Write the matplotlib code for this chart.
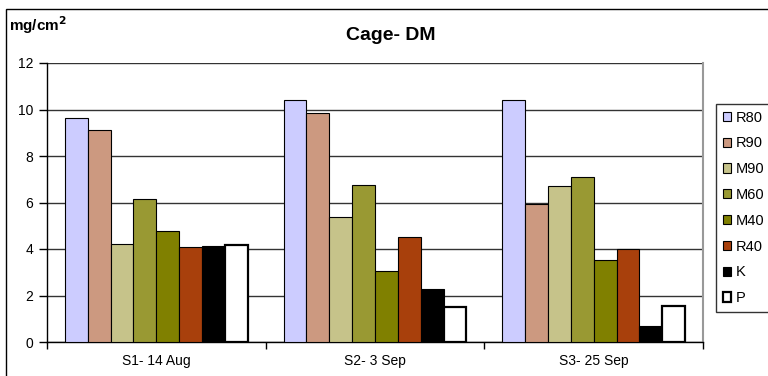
import numpy as np
import matplotlib.pyplot as plt
from matplotlib.patches import Rectangle

plt.rcParams['font.family'] = ['Liberation Sans', 'DejaVu Sans']

# datos
categorias = ['S1- 14 Aug', 'S2- 3 Sep', 'S3- 25 Sep']
series = ['R80', 'R90', 'M90', 'M60', 'M40', 'R40', 'K', 'P']
valores = {
    'R80': [9.65, 10.4, 10.4],
    'R90': [9.1, 9.86, 5.92],
    'M90': [4.2, 5.39, 6.71],
    'M60': [6.15, 6.75, 7.1],
    'M40': [4.79, 3.05, 3.54],
    'R40': [4.1, 4.53, 4.0],
    'K': [4.14, 2.29, 0.7],
    'P': [4.17, 1.49, 1.55],
}
colores = ['#CCCCFF', '#CC9980', '#C6C38A', '#999933', '#808000',
           '#A8400C', '#000000', '#FFFFFF']

fig = plt.figure(figsize=(7.68, 3.76), dpi=100)
ax = fig.add_axes([47/768, 1 - 342/376, (703 - 47)/768, (342 - 63)/376])

n = len(series)
ancho = 0.836 / n
x = np.arange(len(categorias))
for i, s in enumerate(series):
    pos = x - 0.418 + ancho * (i + 0.5)
    lw = 1.6 if s == 'P' else 0.8
    ax.bar(pos, valores[s], width=ancho, color=colores[i],
           edgecolor='black', linewidth=lw, label=s, zorder=3)

ax.set_xlim(-0.5, 2.5)
ax.set_ylim(0, 12)
ax.set_yticks(np.arange(0, 13, 2))
ax.yaxis.grid(True, color='#333333', linewidth=1, zorder=0)
ax.set_xticks([-0.5, 0.5, 1.5, 2.5])
ax.set_xticklabels([])
ax.set_xticks(x, minor=True)
ax.set_xticklabels(categorias, minor=True)
ax.tick_params(axis='x', which='minor', length=0, pad=9, labelsize=10)
ax.tick_params(axis='x', which='major', length=5, width=1, direction='out')
ax.tick_params(axis='y', length=6, width=1, labelsize=10, pad=4)
ax.spines['top'].set_visible(False)
ax.spines['right'].set_color('#999999')
ax.spines['right'].set_linewidth(1.5)
ax.spines['left'].set_linewidth(1)
ax.spines['bottom'].set_linewidth(1)

fig.text(391/768, 1 - 36/376, 'Cage- DM', ha='center', va='center',
         fontsize=14, fontweight='bold')
fig.text(9/768, 1 - 25/376, r'mg/cm$^\mathbf{2}$', ha='left', va='center',
         fontsize=11, fontweight='bold')

leg = fig.legend(loc='upper left', bbox_to_anchor=(716/768, 1 - 104/376),
                 fontsize=10.5, frameon=True, fancybox=False, edgecolor='black',
                 handlelength=0.6, handleheight=0.6, handletextpad=0.3,
                 labelspacing=0.81, borderpad=0.45, borderaxespad=0)
leg.get_frame().set_linewidth(1)

fig.patches.append(Rectangle((6/768, -0.1), 1.2, 1.1 - 9/376,
                             transform=fig.transFigure, fill=False,
                             edgecolor='black', linewidth=1))

fig.savefig('out.png', dpi=100)
